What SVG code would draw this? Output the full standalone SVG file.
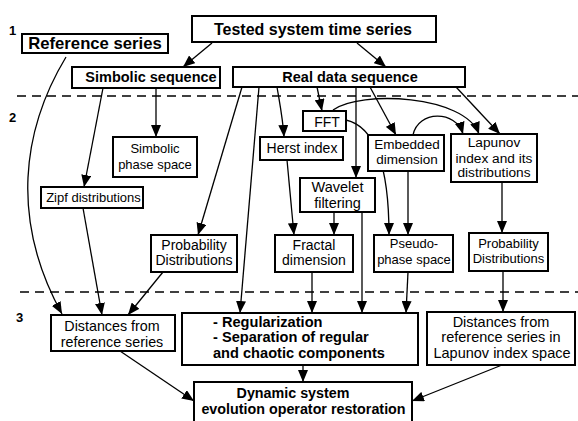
<svg xmlns="http://www.w3.org/2000/svg" width="578" height="421" viewBox="0 0 578 421">
<defs>
<marker id="a" viewBox="0 0 12 10" refX="12" refY="5" markerWidth="12" markerHeight="10" markerUnits="userSpaceOnUse" orient="auto"><path d="M0,0 L12,5 L0,10 z" fill="#000"/></marker>
</defs>
<style>
.box{fill:#fff;stroke:#000;stroke-width:2}
text{font-family:"Liberation Sans",Arial,sans-serif;fill:#000;text-anchor:middle}
.b{font-weight:bold}
.c line,.c path{stroke:#000;stroke-width:1.3;fill:none;marker-end:url(#a)}
.d{stroke:#000;stroke-width:1.5;stroke-dasharray:9,6;fill:none}
.lv{font-weight:bold;font-size:13px;text-anchor:start}
</style>
<rect width="578" height="421" fill="#fff"/>
<g id="levels">
<line class="d" x1="17" y1="96" x2="578" y2="96"/>
<line class="d" x1="20" y1="292" x2="578" y2="292"/>
<text class="lv" x="9" y="35">1</text>
<text class="lv" x="9" y="122">2</text>
<text class="lv" x="16" y="322">3</text>
</g>
<g class="c" id="connectors">
<line x1="212" y1="43" x2="183" y2="67"/>
<line x1="357" y1="43" x2="386" y2="67"/>
<path d="M66,57 C22,130 10,220 62,314"/>
<line x1="103" y1="88" x2="84" y2="187"/>
<line x1="156" y1="88" x2="156" y2="137"/>
<line x1="83" y1="208" x2="102" y2="315"/>
<line x1="163" y1="272" x2="128" y2="315"/>
<line x1="242" y1="87" x2="198" y2="235"/>
<line x1="259" y1="87" x2="240" y2="313"/>
<path d="M277,87 C280,105 283,120 284,137"/>
<line x1="317" y1="87" x2="322" y2="111"/>
<line x1="356" y1="87" x2="356" y2="178"/>
<line x1="370" y1="87" x2="396" y2="135"/>
<line x1="456" y1="87" x2="500" y2="134"/>
<path d="M333,110 C360,90 465,95 479,134"/>
<path d="M346,120 C372,126 389,160 389,235"/>
<path d="M413,135 C418,110 456,110 463,134"/>
<line x1="408" y1="171" x2="408" y2="235"/>
<line x1="287" y1="160" x2="294" y2="235"/>
<line x1="334" y1="212" x2="334" y2="235"/>
<line x1="362" y1="212" x2="362" y2="313"/>
<line x1="502" y1="182" x2="502" y2="233"/>
<line x1="312" y1="272" x2="312" y2="313"/>
<line x1="408" y1="272" x2="406" y2="313"/>
<line x1="503" y1="271" x2="503" y2="312"/>
<line x1="120" y1="351" x2="194" y2="401"/>
<line x1="303" y1="365" x2="303" y2="382"/>
<line x1="502" y1="365" x2="412" y2="401"/>
</g>
<g id="tested"><rect class="box" x="192" y="16" width="244" height="26"/><text class="b" x="313" y="35" font-size="16">Tested system time series</text></g>
<g id="reference"><rect class="box" x="22" y="34" width="146" height="19"/><text class="b" x="95" y="49" font-size="16.7">Reference series</text></g>
<g id="simbolic-seq"><rect class="box" x="72" y="67" width="148" height="21"/><text class="b" x="151" y="82" font-size="14.5">Simbolic sequence</text></g>
<g id="real-data"><rect class="box" x="233" y="67" width="232" height="20"/><text class="b" x="350" y="82" font-size="14.5">Real data sequence</text></g>
<g id="simbolic-phase"><rect class="box" x="113" y="137" width="84" height="40"/><text x="155" y="153" font-size="13">Simbolic</text><text x="155" y="169" font-size="13">phase space</text></g>
<g id="zipf"><rect class="box" x="41" y="187" width="102" height="21"/><text x="93.5" y="202" font-size="13">Zipf distributions</text></g>
<g id="prob-left"><rect class="box" x="151" y="235" width="86" height="37"/><text x="194" y="250" font-size="14">Probability</text><text x="194" y="265" font-size="14">Distributions</text></g>
<g id="herst"><rect class="box" x="260" y="137" width="83" height="23"/><text x="302" y="153" font-size="14">Herst index</text></g>
<g id="fft"><rect class="box" x="303" y="111" width="43" height="20"/><text x="327" y="127" font-size="14">FFT</text></g>
<g id="embedded"><rect class="box" x="368" y="135" width="76" height="36"/><text x="407" y="149" font-size="13.5">Embedded</text><text x="407" y="164" font-size="13.5">dimension</text></g>
<g id="lapunov"><rect class="box" x="451" y="134" width="86" height="48"/><text x="494" y="147" font-size="13.7">Lapunov</text><text x="494" y="163" font-size="13.7">index and its</text><text x="494" y="177" font-size="13.7">distributions</text></g>
<g id="wavelet"><rect class="box" x="300" y="178" width="75" height="34"/><text x="337.5" y="191.5" font-size="14.5">Wavelet</text><text x="337.5" y="207.5" font-size="14.5">filtering</text></g>
<g id="fractal"><rect class="box" x="275" y="235" width="78" height="37"/><text x="314" y="250" font-size="14">Fractal</text><text x="314" y="265" font-size="14">dimension</text></g>
<g id="pseudo"><rect class="box" x="374" y="235" width="79" height="37"/><text x="414" y="248" font-size="13">Pseudo-</text><text x="414" y="264" font-size="13">phase space</text></g>
<g id="prob-right"><rect class="box" x="469" y="233" width="79" height="38"/><text x="508.5" y="248" font-size="13">Probability</text><text x="508.5" y="263" font-size="13">Distributions</text></g>
<g id="distances-ref"><rect class="box" x="51" y="315" width="124" height="36"/><text x="112" y="330.5" font-size="14.3">Distances from</text><text x="112" y="346.5" font-size="14.3">reference series</text></g>
<g id="regularization"><rect class="box" x="182" y="313" width="236" height="52"/><text class="b" x="213" y="326.5" font-size="14.6" style="text-anchor:start">- Regularization</text><text class="b" x="213" y="342" font-size="14.6" style="text-anchor:start">- Separation of regular</text><text class="b" x="213" y="357.5" font-size="14.6" style="text-anchor:start">and chaotic components</text></g>
<g id="distances-lap"><rect class="box" x="427" y="312" width="148" height="53"/><text x="501" y="326.5" font-size="14.5">Distances from</text><text x="501" y="342" font-size="14.5">reference series in</text><text x="502" y="358" font-size="14.5">Lapunov index space</text></g>
<g id="dynamic"><rect class="box" x="194" y="382" width="218" height="45"/><text class="b" x="293" y="397.5" font-size="14.3">Dynamic system</text><text class="b" x="303.5" y="413.5" font-size="14.3">evolution operator restoration</text></g>
</svg>
